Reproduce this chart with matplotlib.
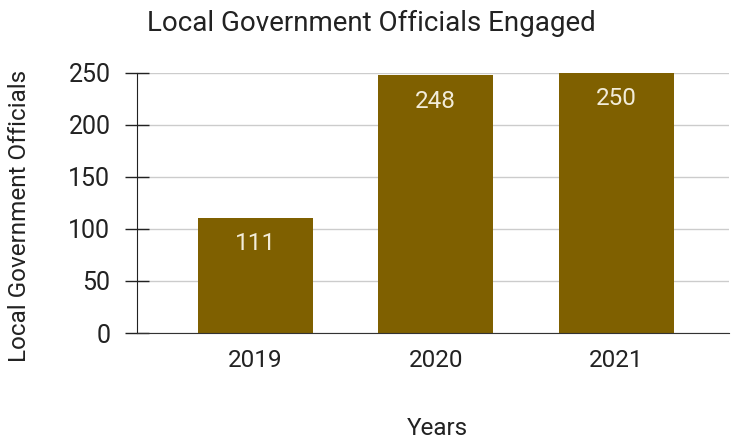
import matplotlib
matplotlib.use("Agg")
import matplotlib.pyplot as plt

years = ["2019", "2020", "2021"]
officials = [111, 248, 250]
yticks = [0, 50, 100, 150, 200, 250]

plt.rcParams['font.family'] = ['Roboto', 'DejaVu Sans']

fig = plt.figure(figsize=(7.31, 4.44), dpi=100)
ax = fig.add_axes([0.1874, 0.25, 0.81, 0.5856])

x = list(range(len(years)))
bars = ax.bar(x, officials, width=0.637, color="#7f6000", zorder=3)
for xi, v in zip(x, officials):
    ax.annotate(str(v), (xi, v), xytext=(0, -26), textcoords="offset pixels",
                ha="center", va="center", color="#f2ecd9", fontsize=17.5, zorder=4)

ax.set_xlim(-0.655, 2.625)
ax.set_ylim(0, 250)
ax.set_yticks(yticks)
ax.set_xticks(x)
ax.set_xticklabels(years)
ax.tick_params(axis="y", direction="inout", length=17.3, width=1.0, color="#222222",
               labelsize=18, labelcolor="#222222", pad=10.5)
ax.tick_params(axis="x", length=0, labelsize=17.5, labelcolor="#222222", pad=11.5)
ax.grid(axis="y", color="#cccccc", linewidth=1, zorder=0)
for s in ["top", "right"]:
    ax.spines[s].set_visible(False)
ax.spines["left"].set_color("#222222")
ax.spines["bottom"].set_color("#333333")
ax.spines["left"].set_zorder(5)
ax.spines["bottom"].set_zorder(5)

fig.text(20 / 731, 1 - 216 / 444, "Local Government Officials", rotation=90,
         ha="center", va="center", fontsize=17.5, color="#222222")
fig.text(437 / 731, 1 - 428 / 444, "Years", ha="center", va="center",
         fontsize=17.5, color="#222222")
fig.text(371 / 731, 1 - 23 / 444, "Local Government Officials Engaged", ha="center",
         va="center", fontsize=20, color="#222222")

fig.savefig("out.png", dpi=100, facecolor="white")
